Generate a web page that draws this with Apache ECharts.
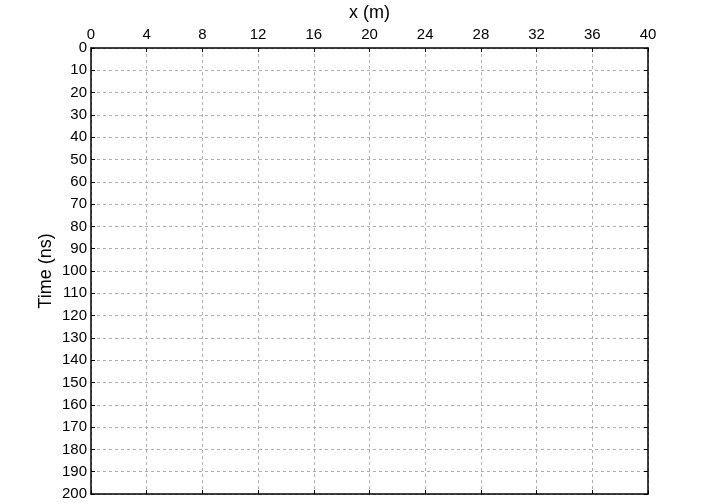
<!DOCTYPE html>
<html>
<head>
<meta charset="utf-8">
<script src="https://cdn.jsdelivr.net/npm/echarts@6/dist/echarts.min.js"></script>
<style>
html,body{margin:0;padding:0;background:#fff;}
#chart{width:719px;height:504px;}
</style>
</head>
<body>
<div id="chart"></div>
<script>
// axis ranges (the reference plot holds no data, only the frame)
const xRange = [0, 40]
const xStep = 4
const yRange = [0, 200]
const yStep = 10
const xName = 'x (m)'
const yName = 'Time (ns)'
const points = []

const chart = echarts.init(document.getElementById('chart'))
const font = 'Liberation Sans, Arial, sans-serif'
const gridLine = {show:true, lineStyle:{color:'#b0b0b0', type:[3,3], width:1}}
const tickIn = {show:true, inside:true, length:4, lineStyle:{color:'#000'}}
const frameLine = {show:true, onZero:false, lineStyle:{color:'#000', width:1.5}}

chart.setOption({
    animation:false,
    grid:{left:91, top:48, right:71, bottom:10, containLabel:false, outerBoundsMode:'none'},
    xAxis:[
        {
            type:'value', position:'top', min:xRange[0], max:xRange[1], interval:xStep,
            name:xName, nameLocation:'middle', nameGap:26,
            nameTextStyle:{fontFamily:font, fontSize:18, color:'#000'},
            axisLine:frameLine,
            axisTick:tickIn,
            axisLabel:{fontFamily:font, fontSize:15, color:'#000', margin:6},
            splitLine:gridLine
        },
        {
            type:'value', position:'bottom', min:xRange[0], max:xRange[1], interval:xStep,
            axisLine:frameLine,
            axisTick:tickIn, axisLabel:{show:false}, splitLine:{show:false}
        }
    ],
    yAxis:[
        {
            type:'value', position:'left', inverse:true, min:yRange[0], max:yRange[1], interval:yStep,
            name:yName, nameLocation:'middle', nameGap:36, nameMoveOverlap:false,
            nameTextStyle:{fontFamily:font, fontSize:18, color:'#000'},
            axisLine:frameLine,
            axisTick:tickIn,
            axisLabel:{fontFamily:font, fontSize:15, color:'#000', margin:4},
            splitLine:gridLine
        },
        {
            type:'value', inverse:true, position:'right', min:yRange[0], max:yRange[1], interval:yStep,
            axisLine:frameLine,
            axisTick:tickIn, axisLabel:{show:false}, splitLine:{show:false}
        }
    ],
    series:[
        {type:'scatter', data:points, xAxisIndex:0, yAxisIndex:0}
    ]
})
</script>
</body>
</html>
